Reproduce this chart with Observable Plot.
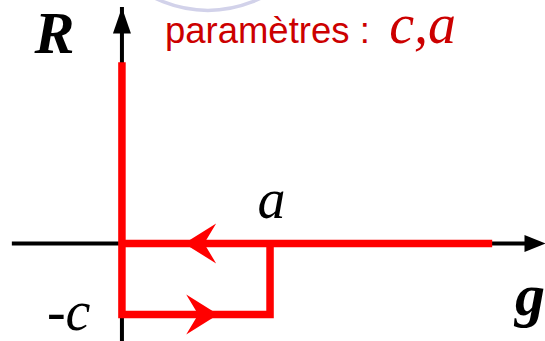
<!DOCTYPE html>
<html>
<head>
<meta charset="utf-8">
<script src="https://cdn.jsdelivr.net/npm/d3@7"></script>
<script src="https://cdn.jsdelivr.net/npm/@observablehq/plot@0.6"></script>
<style>
  html, body { margin: 0; padding: 0; background: #fff; }
  #chart svg { display: block; }
</style>
</head>
<body>
<div id="chart"></div>
<script>
// ---- data (g = abscissa, R = ordinate; a = 1, c = 1) ----
const gDomain = [-0.82, 2.86];
const rDomain = [-1.38, 3.42];

// hysteresis loop: left vertical branch, bottom branch, right vertical
const loopG = [0, 0, 1, 1];
const loopR = [2.55, -1, -1, 0];
// upper branch along R = 0
const branchG = [0, 2.5];
const branchR = [0, 0];

// direction arrows on the loop (tip positions, direction in degrees)
const arrowG = [0.42, 0.65];
const arrowR = [0, -1];
const arrowDir = [180, 0];

// axes
const axisG = [-0.74, 2.86];
const axisR = [-1.38, 3.32];

// decorative arc
const arcG = [0.58];
const arcR = [4.97];

// labels
const mathLabels = ["a", "-c"];
const mathG = [1.01, -0.36];
const mathR = [0.352, -1.22];
const axisLabels = ["R", "g"];
const axisLabelG = [-0.455, 2.755];
const axisLabelR = [2.675, -1.0];
const titleText = ["paramètres :"];
const titleG = [0.29];
const titleR = [2.82];
const paramText = ["c,a"];
const paramG = [1.805];
const paramR = [2.82];

function headSymbol(len, half, notch) {
  return {
    draw(ctx) {
      ctx.moveTo(0, 0);
      ctx.lineTo(-len, -half);
      ctx.lineTo(-len + notch, 0);
      ctx.lineTo(-len, half);
      ctx.closePath();
    }
  };
}
const redHead = headSymbol(32, 20, 12);
const blackHeadX = headSymbol(21, 8.5, 0);
const blackHeadY = headSymbol(26, 9, 0);

const loop = loopG.map((g, i) => ({g, R: loopR[i]}));
const branch = branchG.map((g, i) => ({g, R: branchR[i]}));
const arrows = arrowG.map((g, i) => ({g, R: arrowR[i], dir: arrowDir[i]}));
const mk = (T, G, Rv) => T.map((t, i) => ({t, g: G[i], R: Rv[i]}));

const RED = "#ff0000";
const TEXTRED = "#cc0000";

const plot = Plot.plot({
  width: 545,
  height: 341,
  margin: 0,
  x: {domain: gDomain, axis: null},
  y: {domain: rDomain, axis: null},
  marks: [
    // decorative arc
    Plot.dot(arcG.map((g, i) => ({g, R: arcR[i]})), {x: "g", y: "R", r: 120, stroke: "#d2d2ea", strokeWidth: 3.5, fill: "none"}),
    // axes
    Plot.ruleY([0], {x1: axisG[0], x2: axisG[1], stroke: "black", strokeWidth: 4, insetRight: 19}),
    Plot.ruleX([0], {y1: axisR[0], y2: axisR[1], stroke: "black", strokeWidth: 4, insetTop: 24}),
    Plot.dot([{g: axisG[1], R: 0}], {x: "g", y: "R", symbol: blackHeadX, r: 10, fill: "black", stroke: "none"}),
    Plot.dot([{g: 0, R: axisR[1]}], {x: "g", y: "R", symbol: blackHeadY, r: 10, fill: "black", stroke: "none", rotate: -90}),
    // loop
    Plot.line(branch, {x: "g", y: "R", stroke: RED, strokeWidth: 7.5, strokeLinecap: "butt", strokeLinejoin: "miter", strokeMiterlimit: 4}),
    Plot.line(loop, {x: "g", y: "R", stroke: RED, strokeWidth: 7.5, strokeLinecap: "butt", strokeLinejoin: "miter", strokeMiterlimit: 4}),
    Plot.dot(arrows.filter(d => d.dir === 0), {x: "g", y: "R", symbol: redHead, r: 10, fill: RED, stroke: "none", rotate: 0}),
    Plot.dot(arrows.filter(d => d.dir === 180), {x: "g", y: "R", symbol: redHead, r: 10, fill: RED, stroke: "none", rotate: 180}),
    // labels
    Plot.text(mk(mathLabels, mathG, mathR), {x: "g", y: "R", text: "t", fontFamily: "Liberation Serif", fontStyle: "italic", fontSize: 56, fill: "black", lineAnchor: "bottom", textAnchor: "middle"}),
    Plot.text(mk(axisLabels, axisLabelG, axisLabelR), {x: "g", y: "R", text: "t", fontFamily: "Liberation Serif", fontStyle: "italic", fontWeight: "bold", fontSize: 60, fill: "black", lineAnchor: "bottom", textAnchor: "middle"}),
    Plot.text(mk(titleText, titleG, titleR), {x: "g", y: "R", text: "t", fontFamily: "Liberation Sans", fontSize: 36.5, fill: TEXTRED, lineAnchor: "bottom", textAnchor: "start"}),
    Plot.text(mk(paramText, paramG, paramR), {x: "g", y: "R", text: "t", fontFamily: "Liberation Serif", fontStyle: "italic", fontSize: 56, fill: TEXTRED, lineAnchor: "bottom", textAnchor: "start"})
  ]
});
document.getElementById("chart").appendChild(plot);
</script>
</body>
</html>
